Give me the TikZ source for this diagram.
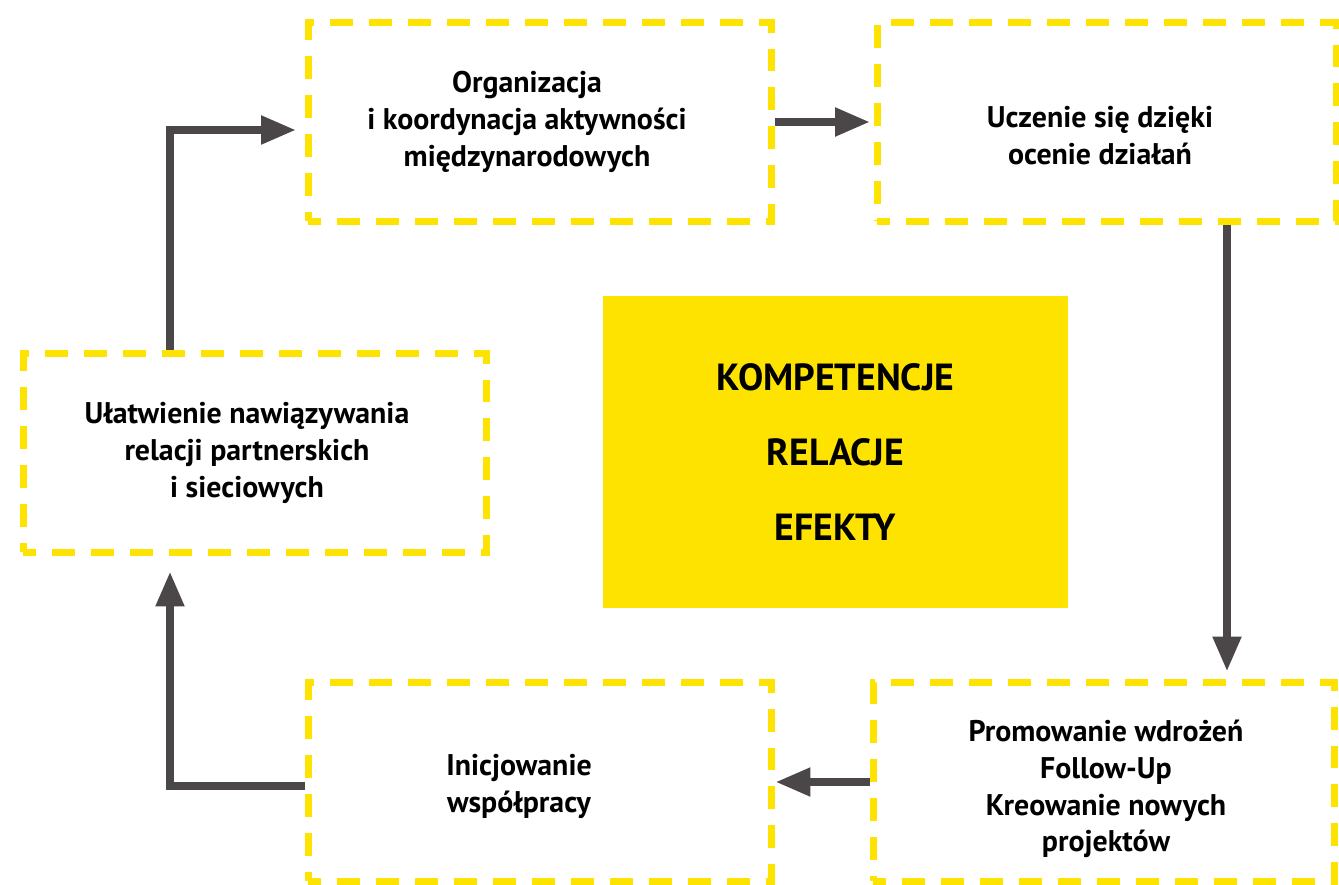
\documentclass[tikz,border=0pt]{standalone}
\usepackage{fontspec}
\setmainfont{PT Sans}
\usetikzlibrary{arrows.meta}
\usetikzlibrary{calc}
\definecolor{frameyellow}{HTML}{FFE300}
\definecolor{arrowgray}{HTML}{4B4748}
\newcommand{\stagewidth}{9.28cm}
\newcommand{\stageheight}{3.98cm}
\tikzstyle{stage}=[
  draw=frameyellow,
  line width=0.14cm,
  dash pattern=on 0.46cm off 0.32cm,
  dash phase=0.2cm,
  minimum width=\stagewidth,
  minimum height=\stageheight
]
\tikzstyle{stagetext}=[
  align=center,
  inner sep=0pt,
  font=\bfseries\fontsize{17}{21}\selectfont
]
\tikzstyle{core}=[
  fill=frameyellow,
  minimum width=9.3cm,
  minimum height=6.24cm,
  align=center,
  font=\bfseries\fontsize{21.5}{42.7}\selectfont
]
\tikzstyle{op}=[
  draw=arrowgray,
  line width=0.16cm,
  -{Triangle[length=0.7cm, width=0.54cm]}
]

\begin{document}
\begin{tikzpicture}[x=0.02cm, y=-0.02cm]
  \useasboundingbox (0,0) rectangle (1339,885);

  \node[stage                    ] (org)  at (540,  122) {};
  \node[stage, minimum width=9.2cm] (ucz)  at (1107, 122) {};
  \node[stage                    ] (ulat) at (255,  453) {};
  \node[stage                    ] (inic) at (540,  782) {};
  \node[stage, minimum width=9.24cm] (prom) at (1104, 782) {};
  \node[core                     ] (komp) at (835.5, 452) {KOMPETENCJE\\RELACJE\\EFEKTY};

  \node[stagetext] (orgtext)  at (527,  122) {Organizacja\\i koordynacja aktywności\\międzynarodowych};
  \node[stagetext] (ucztext)  at (1100, 136) {Uczenie się dzięki\\ocenie działań};
  \node[stagetext] (ulattext) at (247,  453) {Ułatwienie nawiązywania\\relacji partnerskich\\i sieciowych};
  \node[stagetext] (inictext) at (519,  786) {Inicjowanie\\współpracy};
  \node[stagetext] (promtext) at (1106, 789) {Promowanie wdrożeń\\Follow-Up\\Kreowanie nowych\\projektów};

  \coordinate (bendtop)    at (170,  130);
  \coordinate (bendbottom) at (170,  786);
  \coordinate (dropx)      at (1227,   0);

  \draw[op, shorten >=0.17cm] (ulat.north -| bendtop) -- (bendtop) -- (bendtop -| org.west);
  \draw[op, shorten >=0.07cm] (org.east) -- (ucz.west);
  \draw[op, shorten >=0.15cm] (ucz.south -| dropx) -- (prom.north -| dropx);
  \draw[op] (prom.west) -- (inic.east);
  \draw[op, shorten >=0.31cm] (inic.west |- bendbottom) -- (bendbottom) -- (ulat.south -| bendbottom);
\end{tikzpicture}
\end{document}
